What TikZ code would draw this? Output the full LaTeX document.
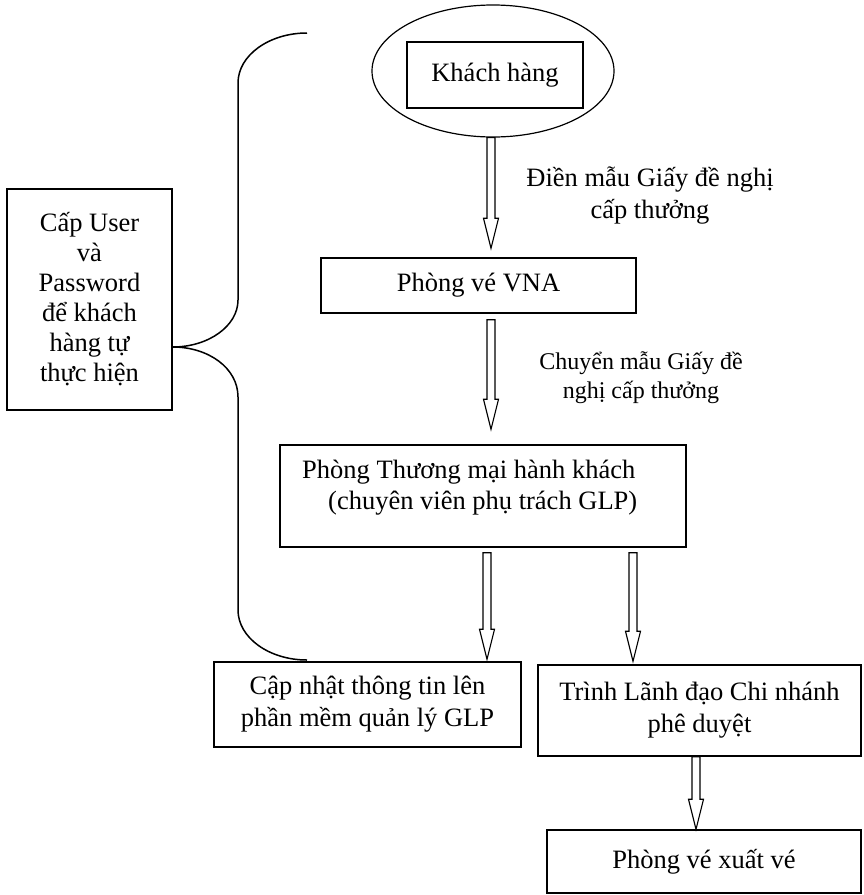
\documentclass[tikz,border=0pt]{standalone}
\usepackage{fontspec}
\setmainfont{Liberation Serif}
\usetikzlibrary{calc,shapes.geometric}
\tikzset{
  box/.style={draw, line width=1.5pt, inner sep=0pt, align=center, font=\fontsize{26.5}{32}\selectfont},
  lbl/.style={align=center, inner sep=0pt},
  barrow/.style={draw, line width=1.1pt, fill=white, line join=miter},
  bracel/.style={draw, line width=1.5pt},
}
\newcommand\blockarrow[3]{%
  \coordinate (#1s) at (#2);
  \coordinate (#1e0) at (#3);
  \coordinate (#1e) at (#1s |- #1e0);
  \path[barrow] ($(#1s)+(-4,0)$) -- ($(#1e)+(-4,-30)$) -- ($(#1e)+(-7.5,-30)$) -- (#1e)
    -- ($(#1e)+(7.5,-30)$) -- ($(#1e)+(4,-30)$) -- ($(#1s)+(4,0)$) -- cycle;}
\begin{document}
\begin{tikzpicture}[x=1pt, y=-1pt]
\useasboundingbox (0,0) rectangle (863,895);
% nodes
\node[draw, ellipse, line width=1.2pt, minimum width=242pt, minimum height=132pt, inner sep=0pt] (khe) at (493,71) {};
\node[box, minimum width=176pt, minimum height=66pt] (kh) at (495,75) {Khách hàng};
\node[box, minimum width=165pt, minimum height=221pt, font=\fontsize{26.5}{30}\selectfont] (cu) at (89.5,299.5) {Cấp User\\và\\Password\\để khách\\hàng tự\\thực hiện};
\node[box, minimum width=315pt, minimum height=55pt] (vna) at (478.5,285.5) {Phòng vé VNA};
\node[box, minimum width=406pt, minimum height=102pt] (tm) at (483,496) {};
\node[lbl, anchor=west, align=left, font=\fontsize{26.5}{31}\selectfont] (tmt) at (302,487.5) {Phòng Thương mại hành khách\\\hspace*{26pt}(chuyên viên phụ trách GLP)};
\node[box, minimum width=307pt, minimum height=85pt] (cn) at (367.5,704.5) {Cập nhật thông tin lên\\phần mềm quản lý GLP};
\node[box, minimum width=323pt, minimum height=91pt] (tr) at (699.5,710.5) {Trình Lãnh đạo Chi nhánh\\phê duyệt};
\node[box, minimum width=314pt, minimum height=63pt] (xv) at (704,861.5) {Phòng vé xuất vé};
% labels
\node[lbl, font=\fontsize{26.5}{32}\selectfont] (l1) at (650,196) {Điền mẫu Giấy đề nghị\\cấp thưởng};
\node[lbl, font=\fontsize{24}{29}\selectfont] (l2) at (641,377.5) {Chuyển mẫu Giấy đề\\nghị cấp thưởng};
% block arrows
\blockarrow{a}{$(khe.south)+(-2,0)$}{$(vna.north)+(0,-9)$}
\blockarrow{b}{$(vna.south)+(12.5,6)$}{$(tm.north)+(0,-15)$}
\blockarrow{c}{$(tm.south)+(4,5)$}{$(cn.north)+(0,-2)$}
\blockarrow{d}{$(tm.south)+(150,5)$}{$(tr.north)+(0,-3)$}
\blockarrow{f}{$(tr.south)+(-3.5,0)$}{xv.north}
% brace
\coordinate (bt) at (307,33);
\coordinate (bb) at (307,660);
\coordinate (bm) at ($(cu.east)+(0,47.5)$);
\draw[bracel] (bt) .. controls (269,33) and (238,55.4) .. (238,83) -- (238,300)
  .. controls (238,326) and (208.4,347) .. (bm)
  .. controls (208.4,347) and (238,368) .. (238,397) -- (238,610)
  .. controls (238,637.6) and (269,660) .. (bb);
\end{tikzpicture}
\end{document}
